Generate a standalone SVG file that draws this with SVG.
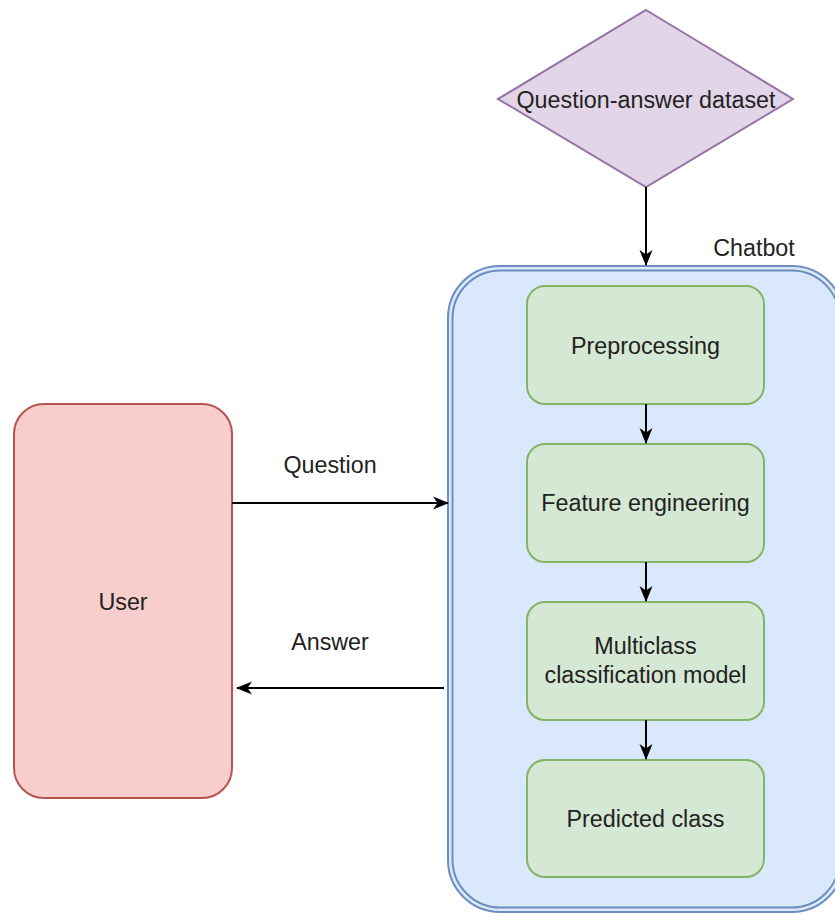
<svg xmlns="http://www.w3.org/2000/svg" width="835" height="914" viewBox="0 0 835 914">
  <defs>
    <marker id="arrow" viewBox="0 0 16 16" refX="15" refY="8" markerWidth="16" markerHeight="16" markerUnits="userSpaceOnUse" orient="auto">
      <path d="M0,1.5 L16,8 L0,14.5 L4.5,8 Z" fill="#000"/>
    </marker>
  </defs>
  <style>
    text { font-family: "Liberation Sans", Arial, sans-serif; font-size: 23.3px; fill: #222; text-anchor: middle; dominant-baseline: central; }
    .step { fill: #d5e8d4; stroke: #82b366; stroke-width: 2; }
    .edge { fill: none; stroke: #000; stroke-width: 2; marker-end: url(#arrow); }
  </style>
  <rect width="835" height="914" fill="#fff"/>

  <g id="dataset">
    <polygon points="646,10 793,99 646,187 498,99" fill="#e1d5e7" stroke="#9673a6" stroke-width="2"/>
    <text x="646" y="100">Question-answer dataset</text>
  </g>

  <g id="chatbot">
    <rect x="448" y="266" width="396" height="646" rx="52" fill="#dae8fc" stroke="#6c8ebf" stroke-width="2"/>
    <rect x="452.5" y="270.5" width="387" height="637" rx="48" fill="none" stroke="#6c8ebf" stroke-width="2"/>
    <text x="754" y="248">Chatbot</text>
  </g>

  <g id="preprocessing">
    <rect class="step" x="527" y="286" width="237" height="118" rx="18"/>
    <text x="645.5" y="346">Preprocessing</text>
  </g>

  <g id="feature-engineering">
    <rect class="step" x="527" y="444" width="237" height="118" rx="18"/>
    <text x="645.5" y="503">Feature engineering</text>
  </g>

  <g id="classifier">
    <rect class="step" x="527" y="602" width="237" height="118" rx="18"/>
    <text x="645.5" y="646">Multiclass</text>
    <text x="645.5" y="675">classification model</text>
  </g>

  <g id="predicted-class">
    <rect class="step" x="527" y="760" width="237" height="117" rx="18"/>
    <text x="645.5" y="819">Predicted class</text>
  </g>

  <g id="user">
    <rect x="14" y="404" width="218" height="394" rx="30" fill="#f8cecc" stroke="#b85450" stroke-width="2"/>
    <text x="123" y="602">User</text>
  </g>

  <g id="connectors">
    <line class="edge" x1="646" y1="187" x2="646" y2="265"/>
    <line class="edge" x1="646" y1="404" x2="646" y2="443"/>
    <line class="edge" x1="646" y1="562" x2="646" y2="601"/>
    <line class="edge" x1="646" y1="720" x2="646" y2="759"/>
    <line class="edge" x1="232" y1="503" x2="448" y2="503"/>
    <line class="edge" x1="444" y1="688" x2="237" y2="688"/>
    <text x="330" y="465">Question</text>
    <text x="330" y="642">Answer</text>
  </g>
</svg>
